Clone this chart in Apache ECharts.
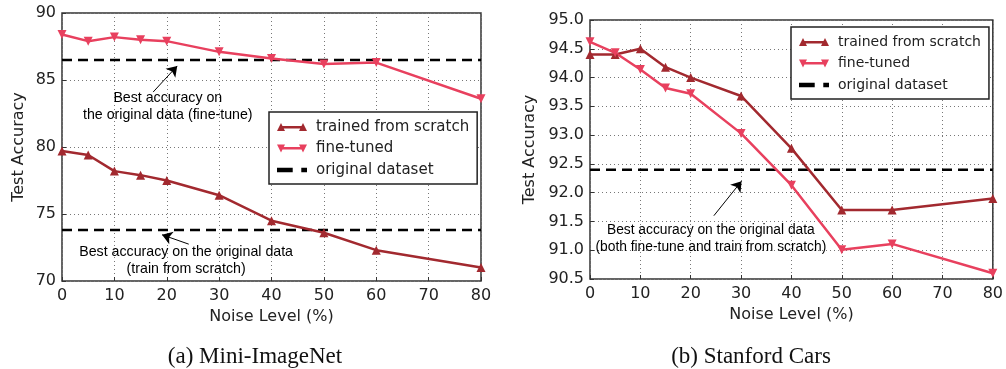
<!DOCTYPE html>
<html>
<head>
<meta charset="utf-8">
<script src="https://cdn.jsdelivr.net/npm/echarts@6/dist/echarts.min.js"></script>
<style>html,body{margin:0;padding:0;background:#fff;}#c{width:1006px;height:369px;}</style>
</head>
<body>
<div id="c"></div>
<script>
// ---- data ----
const noise = [0, 5, 10, 15, 20, 30, 40, 50, 60, 80];
const miniScratch = [79.7, 79.4, 78.2, 77.9, 77.5, 76.4, 74.5, 73.6, 72.3, 71.0];
const miniFine = [88.4, 87.9, 88.2, 88.0, 87.9, 87.1, 86.6, 86.2, 86.3, 83.6];
const carsScratch = [94.4, 94.4, 94.5, 94.18, 94.0, 93.68, 92.77, 91.7, 91.7, 91.9];
const carsFine = [94.62, 94.43, 94.14, 93.82, 93.72, 93.03, 92.13, 91.01, 91.11, 90.6];
const miniBestFine = 86.5;
const miniBestScratch = 73.8;
const carsBest = 92.4;
const xTicks = [0, 10, 20, 30, 40, 50, 60, 70, 80];
const miniYTicks = [70, 75, 80, 85, 90];
const carsYTicks = [90.5, 91.0, 91.5, 92.0, 92.5, 93.0, 93.5, 94.0, 94.5, 95.0];
const seriesNames = ['trained from scratch', 'fine-tuned', 'original dataset'];
const captions = ['(a) Mini-ImageNet', '(b) Stanford Cars'];
const notes = {
  miniFine: { text: 'Best accuracy on\nthe original data (fine-tune)', at: [20.2, 83.05], from: [17.4, 84.1], to: [22.0, 86.05] },
  miniScratch: { text: 'Best accuracy on the original data\n(train from scratch)', at: [23.7, 71.55], from: [24.2, 72.75], to: [19.1, 73.45] },
  cars: { text: 'Best accuracy on the original data\n(both fine-tune and train from scratch)', at: [24.0, 91.2], from: [24.6, 91.6], to: [30.1, 92.2] }
};

const cScratch = '#a2292f';
const cFine = '#e8405e';
const pair = a => noise.map((x, i) => [x, a[i]]);
const hline = v => [[xTicks[0], v], [xTicks[xTicks.length - 1], v]];

const tickFont = { fontFamily: 'DejaVu Sans', fontSize: 16, color: '#222' };

function xAxis(gi) {
  return {
    type: 'value', gridIndex: gi, min: 0, max: 80, interval: 10,
    name: 'Noise Level (%)', nameLocation: 'middle', nameGap: 26,
    nameTextStyle: { fontFamily: 'DejaVu Sans', fontSize: 16, color: '#222' },
    axisLine: { show: false },
    axisTick: { show: true, inside: true, length: 4, lineStyle: { color: '#333' } },
    axisLabel: Object.assign({ margin: 7 }, tickFont),
    splitLine: { show: true, lineStyle: { type: [1, 3], color: '#777', width: 1 } }
  };
}
function yAxis(gi, min, max, interval, dec, gap) {
  return {
    type: 'value', gridIndex: gi, min: min, max: max, interval: interval,
    name: 'Test Accuracy', nameLocation: 'middle', nameGap: gap,
    nameTextStyle: { fontFamily: 'DejaVu Sans', fontSize: 16, color: '#222' },
    axisLine: { show: false },
    axisTick: { show: true, inside: true, length: 4, lineStyle: { color: '#333' } },
    axisLabel: Object.assign({ margin: 6, formatter: v => v.toFixed(dec) }, tickFont),
    splitLine: { show: true, lineStyle: { type: [1, 3], color: '#777', width: 1 } }
  };
}
function dataSeries(name, gi, data, color, rot) {
  return {
    type: 'line', name: name, xAxisIndex: gi, yAxisIndex: gi, data: pair(data),
    symbol: 'triangle', symbolSize: 9, symbolRotate: rot, showSymbol: true,
    lineStyle: { color: color, width: 2.5 }, itemStyle: { color: color },
    animation: false, z: 3
  };
}
function arrowLine(n) {
  return {
    silent: true, symbol: ['none', 'arrow'], symbolSize: 10,
    label: { show: false }, lineStyle: { color: '#000', width: 1, type: 'solid' },
    itemStyle: { color: '#000' },
    data: [[{ coord: n.from }, { coord: n.to }]], animation: false, z: 8
  };
}
function dashSeries(gi, v, note) {
  const s = {
    type: 'line', name: seriesNames[2], xAxisIndex: gi, yAxisIndex: gi, data: hline(v),
    symbol: 'none', lineStyle: { color: '#000', width: 2.5, type: [10, 6] },
    itemStyle: { color: '#000' }, animation: false, z: 2
  };
  if (note) s.markLine = arrowLine(note);
  return s;
}

// legend icons: single outlines (line with a marker at each end), drawn in a 30x11 box
const pathScratch = 'path://M0,9.5L4,1.5L5.5,4.5L24.5,4.5L26,1.5L30,9.5L22,9.5L23.25,7L6.75,7L8,9.5Z';
const pathFine = 'path://M0,1.5L8,1.5L6.75,4L23.25,4L22,1.5L30,1.5L26,9.5L24.5,6.5L5.5,6.5L4,9.5Z';
const pathDash = 'path://M4,4L15,4L15,7L4,7Z M21,4L25,4L25,7L21,7Z';

function legend(left, top, fs) {
  return {
    left: left, top: top, orient: 'vertical', align: 'left',
    itemWidth: 30, itemHeight: 11, itemGap: 3.5,
    padding: [6, 8, 5, 8],
    borderColor: '#222', borderWidth: 1.5, borderRadius: 0, backgroundColor: '#fff',
    selectedMode: false,
    textStyle: { fontFamily: 'DejaVu Sans', fontSize: fs, color: '#222', lineHeight: 18, padding: [0, 0, 0, 4] },
    itemStyle: { borderWidth: 0 }, lineStyle: { width: 0 },
    data: [
      { name: seriesNames[0], icon: pathScratch },
      { name: seriesNames[1], icon: pathFine },
      { name: seriesNames[2], icon: pathDash }
    ]
  };
}

const captionStyle = { fontFamily: 'Liberation Serif', fontSize: 23, fontWeight: 'normal', color: '#111' };
const chart = echarts.init(document.getElementById('c'), null, { renderer: 'canvas' });
chart.setOption({
  backgroundColor: '#fff',
  animation: false,
  title: [
    { text: captions[0], left: 250, top: 340, textAlign: 'center', textStyle: captionStyle },
    { text: captions[1], left: 746, top: 340, textAlign: 'center', textStyle: captionStyle }
  ],
  grid: [
    { left: 62, right: 525, top: 13, bottom: 88, show: true, borderColor: '#333', borderWidth: 1.5, backgroundColor: 'transparent' },
    { left: 590, right: 9, top: 20, bottom: 90, show: true, borderColor: '#333', borderWidth: 1.5, backgroundColor: 'transparent' }
  ],
  xAxis: [xAxis(0), xAxis(1)],
  yAxis: [
    yAxis(0, miniYTicks[0], miniYTicks[miniYTicks.length - 1], 5, 0, 35),
    yAxis(1, carsYTicks[0], carsYTicks[carsYTicks.length - 1], 0.5, 1, 52)
  ],
  legend: [legend(269, 112, 15), legend(791, 27, 14)],
  series: [
    dashSeries(0, miniBestFine, notes.miniFine),
    dashSeries(0, miniBestScratch, notes.miniScratch),
    dataSeries(seriesNames[0], 0, miniScratch, cScratch, 0),
    dataSeries(seriesNames[1], 0, miniFine, cFine, 180),
    dashSeries(1, carsBest, notes.cars),
    dataSeries(seriesNames[0], 1, carsScratch, cScratch, 0),
    dataSeries(seriesNames[1], 1, carsFine, cFine, 180)
  ]
});

// annotation texts anchored in data coordinates
function noteText(gi, n, size) {
  const p = chart.convertToPixel({ gridIndex: gi }, n.at);
  return {
    type: 'text', x: p[0], y: p[1], z: 10,
    style: { text: n.text, fontFamily: 'Liberation Sans', fontSize: size, lineHeight: 17, fill: '#000', align: 'center', verticalAlign: 'middle' }
  };
}
chart.setOption({
  graphic: [
    noteText(0, notes.miniFine, 14.2),
    noteText(0, notes.miniScratch, 14.2),
    noteText(1, notes.cars, 13.8)
  ]
});
</script>
</body>
</html>
